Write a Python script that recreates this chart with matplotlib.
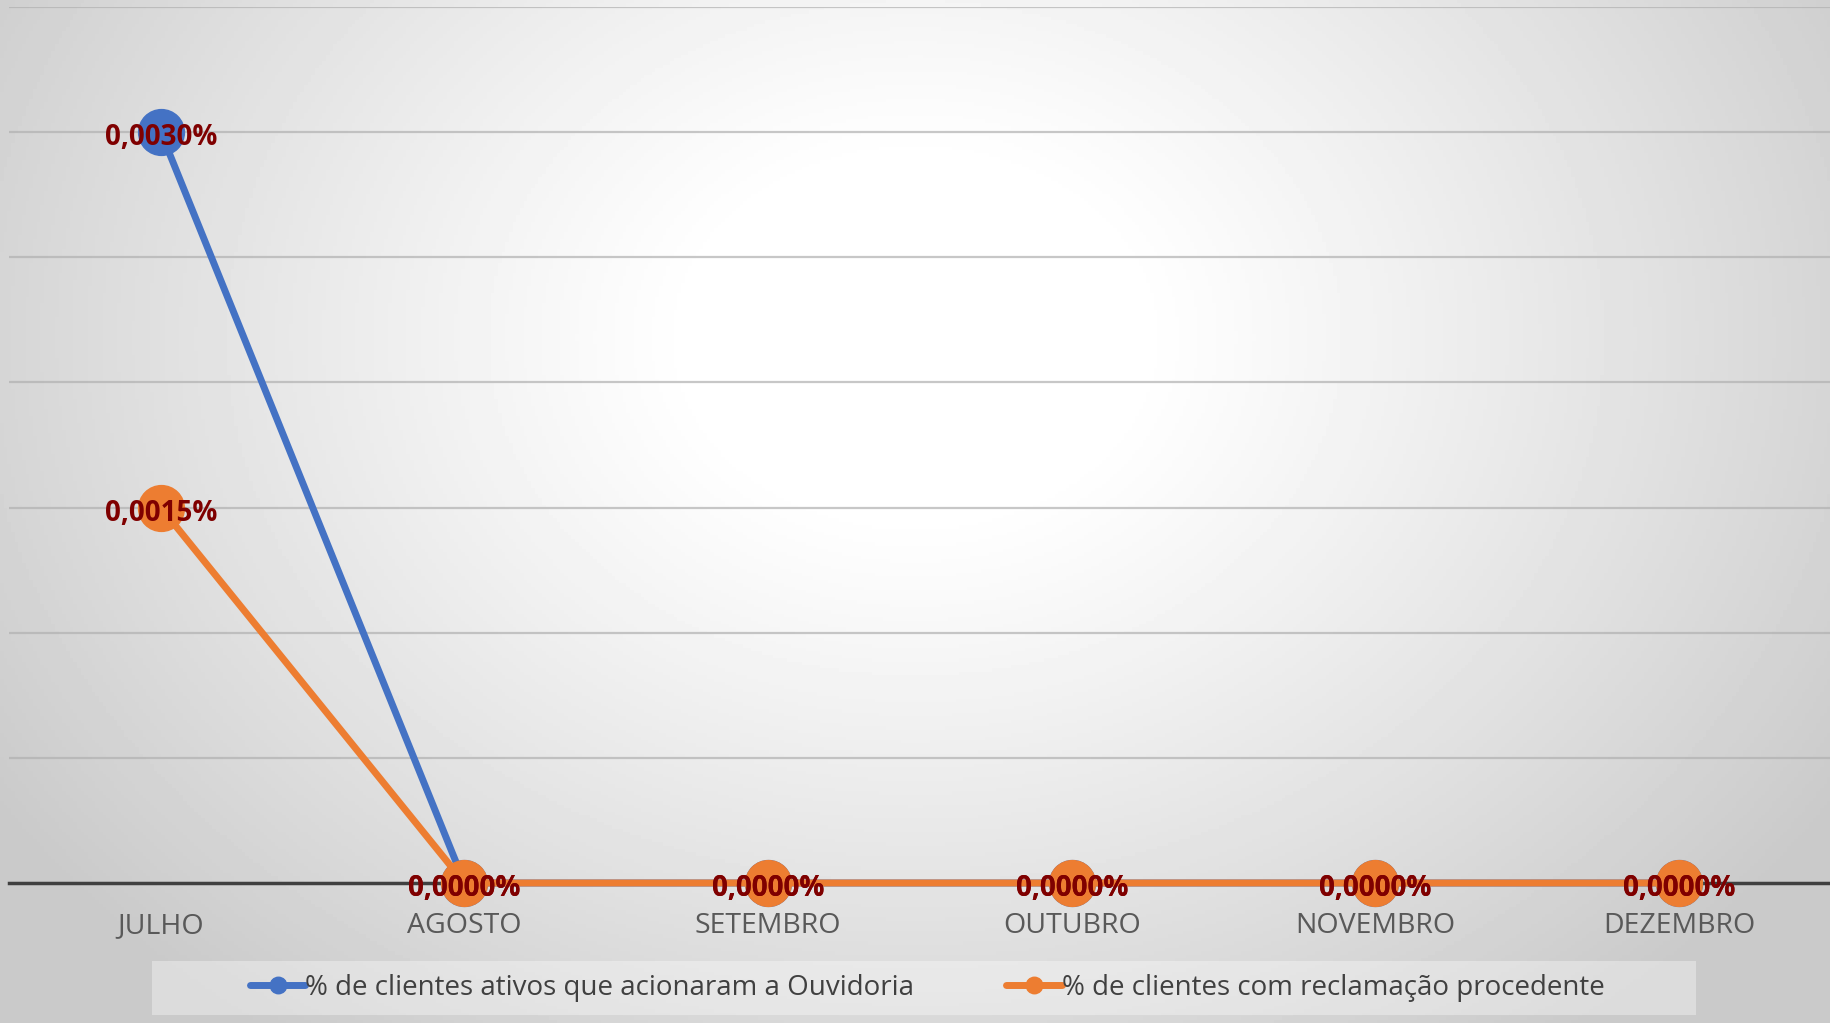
import numpy as np
import matplotlib.pyplot as plt
from matplotlib.patches import Rectangle

# dados (em %)
meses = ['JULHO', 'AGOSTO', 'SETEMBRO', 'OUTUBRO', 'NOVEMBRO', 'DEZEMBRO']
ouvidoria = [0.0030, 0.0, 0.0, 0.0, 0.0, 0.0]
procedente = [0.0015, 0.0, 0.0, 0.0, 0.0, 0.0]
nome_ouvidoria = '% de clientes ativos que acionaram a Ouvidoria'
nome_procedente = '% de clientes com reclamação procedente'

azul = '#4472c4'
laranja = '#ed7d31'
vinho = '#7f0000'

plt.rcParams['font.family'] = ['Open Sans', 'DejaVu Sans']

fig = plt.figure(figsize=(18.31, 10.23), dpi=100)

# fundo com gradiente radial
bg = fig.add_axes([0, 0, 1, 1], zorder=-10)
yy, xx = np.mgrid[0:1:300j, 0:1:500j]
r = np.sqrt(((xx - 0.5) / 0.6) ** 2 + ((yy - 0.33) / 0.85) ** 2)
r = np.clip((r - 0.2) / 0.8, 0, 1)
val = 1.0 - 0.21 * r ** 1.1
bg.imshow(val, cmap='gray', vmin=0, vmax=1, aspect='auto', extent=[0, 1, 0, 1], origin='upper')
bg.axis('off')

ax = fig.add_axes([9 / 1831, 1 - 883 / 1023, 1 - 9 / 1831, (883 - 7) / 1023])
ax.patch.set_alpha(0)

x = np.arange(len(meses))
ax.plot(x, ouvidoria, color=azul, lw=5, marker='o', ms=33, clip_on=False,
        solid_capstyle='round', zorder=3, label=nome_ouvidoria)
ax.plot(x, procedente, color=laranja, lw=5, marker='o', ms=33, clip_on=False,
        solid_capstyle='round', zorder=4, label=nome_procedente)

for serie in (ouvidoria, procedente):
    for xi, v in zip(x, serie):
        txt = f'{v:.4f}%'.replace('.', ',')
        ax.annotate(txt, (xi, v), xytext=(0, -4), textcoords='offset points',
                    ha='center', va='center', color=vinho, fontsize=20,
                    fontweight='bold', zorder=6, annotation_clip=False)

ax.set_xlim(-0.5, len(meses) - 0.5)
ax.set_ylim(0, 0.0035)
ax.set_yticks(np.arange(0, 0.0036, 0.0005))
ax.yaxis.grid(True, color='#b0b0b0', alpha=0.7, lw=1.6, zorder=0)
ax.set_yticklabels([])
ax.tick_params(axis='y', length=0)
ax.set_xticks(x)
ax.set_xticklabels(meses, fontsize=20.5, color='#595959')
ax.tick_params(axis='x', length=0, pad=21)
for s in ['left', 'right', 'top']:
    ax.spines[s].set_visible(False)
ax.spines['bottom'].set_color('#404040')
ax.spines['bottom'].set_linewidth(2.5)
ax.spines['bottom'].set_zorder(2)

# caixa da legenda
fig.patches.append(Rectangle((152 / 1831, 1 - 1015 / 1023), (1696 - 152) / 1831, 54 / 1023,
                             transform=fig.transFigure, facecolor='white', alpha=0.35,
                             edgecolor='none', zorder=-5))
leg = fig.legend(loc='center', bbox_to_anchor=(927 / 1831, 1 - 988 / 1023), ncol=2,
                 frameon=False, fontsize=20, handlelength=2.0, handletextpad=0.0,
                 columnspacing=3.3, markerscale=0.36)
for t in leg.get_texts():
    t.set_color('#404040')

fig.savefig('out.png', dpi=100)
